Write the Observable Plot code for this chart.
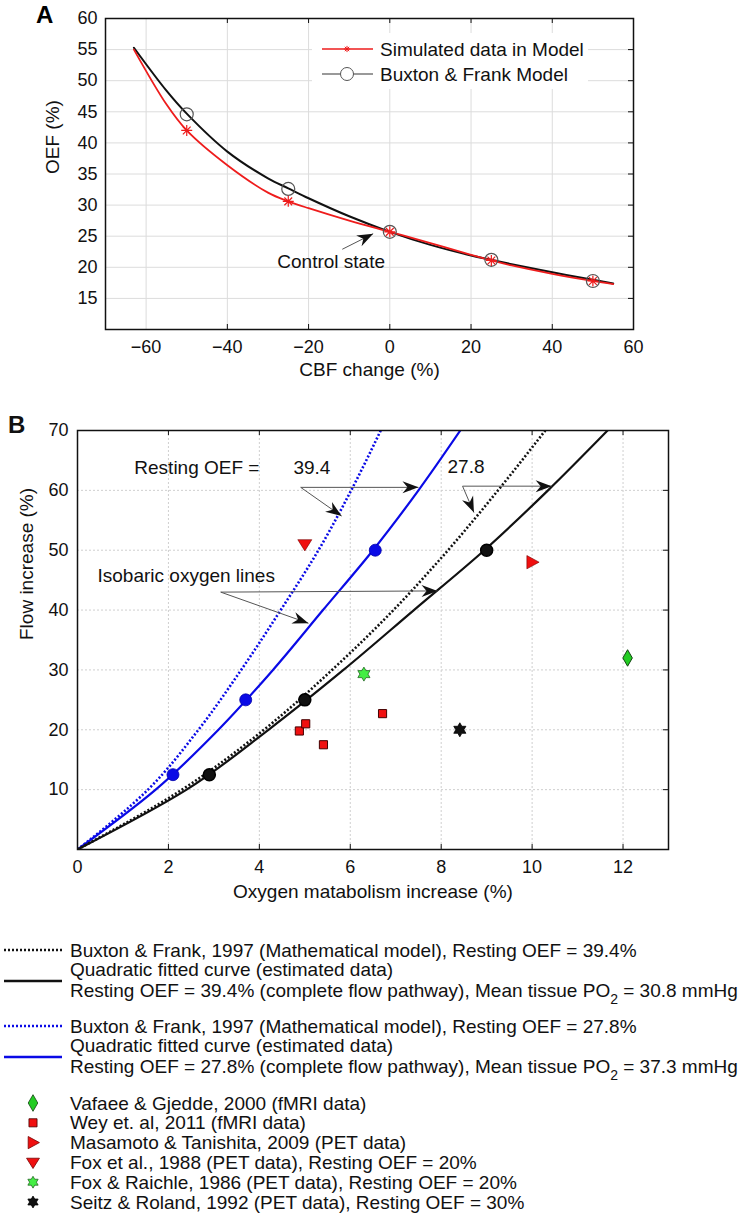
<!DOCTYPE html>
<html><head><meta charset="utf-8">
<script src="https://cdn.jsdelivr.net/npm/d3@7"></script>
<script src="https://cdn.jsdelivr.net/npm/@observablehq/plot@0.6"></script>
<style>
body{margin:0;background:#fff;}
#page{position:relative;width:743px;height:1217px;overflow:hidden;font-family:"Liberation Sans",Arial,Helvetica,sans-serif;background:#fff;}
#page svg{position:absolute;overflow:visible;}
</style></head><body><div id="page"></div>
<script>
const FONT = '"Liberation Sans", Arial, Helvetica, sans-serif';

// ---------------- Panel A data ----------------
const aCbf = [-63, -55, -50, -40, -30, -25, -20, -10, 0, 10, 20, 25, 30, 40, 50, 55];
const aOefBuxton = [55.3, 48.4, 44.7, 38.6, 34.3, 32.7, 31.1, 28.2, 25.7, 23.6, 21.9, 21.2, 20.5, 19.2, 18.0, 17.4];
const aOefSimulated = [55.0, 46.2, 42.0, 36.4, 32.0, 30.6, 29.5, 27.5, 25.7, 23.9, 22.0, 21.1, 20.3, 18.95, 17.8, 17.3];
const aMarkerCbf = [-50, -25, 0, 25, 50];
const aMarkerBuxton = [44.6, 32.6, 25.7, 21.2, 17.8];
const aMarkerSimulated = [42.0, 30.6, 25.7, 21.1, 17.8];
const aXTicks = [-60, -40, -20, 0, 20, 40, 60];
const aYTicks = [15, 20, 25, 30, 35, 40, 45, 50, 55, 60];
const aLegendLabels = ["Simulated data in Model", "Buxton & Frank Model"];
const aNote = {text: "Control state", x: -27.7, y: 20.8, ax1: -11.7, ay1: 22.9, ax2: -4.1, ay2: 25.4};

// ---------------- Panel B data ----------------
const bFlowLevels = [0, 10, 20, 30, 40, 50, 60, 70];
const bBuxton394 = [0, 2.3, 4.1, 5.6, 6.95, 8.15, 9.25, 10.29];   // black dotted
const bFitted394 = [0, 2.4, 4.2, 5.85, 7.4, 8.95, 10.35, 11.66];  // black solid
const bBuxton278 = [0, 1.55, 2.66, 3.6, 4.47, 5.3, 6.02, 6.67];   // blue dotted
const bFitted278 = [0, 1.72, 3.1, 4.3, 5.4, 6.5, 7.5, 8.42];      // blue solid
const bDotFlow = [12.5, 25, 50];
const bDotFitted394 = [2.9, 5.0, 9.0];
const bDotFitted278 = [2.1, 3.7, 6.55];
const vafaeeCmro2 = [12.1], vafaeeFlow = [32];
const weyCmro2 = [4.88, 5.02, 5.41, 6.71], weyFlow = [19.8, 21.0, 17.5, 22.7];
const masamotoCmro2 = [10.0], masamotoFlow = [48];
const fox1988Cmro2 = [5.0], fox1988Flow = [51];
const foxRaichleCmro2 = [6.3], foxRaichleFlow = [29.3];
const seitzCmro2 = [8.41], seitzFlow = [20.0];
const bXTicks = [0, 2, 4, 6, 8, 10, 12];
const bYTicks = [10, 20, 30, 40, 50, 60, 70];
const bNotes = [
  {text: "Resting OEF =", x: 1.25, y: 63.7},
  {text: "39.4", x: 4.75, y: 63.7},
  {text: "27.8", x: 8.14, y: 63.9},
  {text: "Isobaric oxygen lines", x: 0.44, y: 45.7}
];
const bArrows = [
  {x1: 4.91, y1: 60.5, x2: 7.50, y2: 60.5},
  {x1: 4.91, y1: 60.5, x2: 5.81, y2: 55.7},
  {x1: 8.47, y1: 60.7, x2: 10.43, y2: 60.7},
  {x1: 8.47, y1: 60.7, x2: 8.72, y2: 56.3},
  {x1: 3.15, y1: 43.0, x2: 7.92, y2: 43.2},
  {x1: 3.15, y1: 43.0, x2: 5.08, y2: 37.8}
];
const bLegendSeries = [
  "Buxton & Frank, 1997 (Mathematical model), Resting OEF = 39.4%",
  "Quadratic fitted curve (estimated data)",
  "Resting OEF = 39.4% (complete flow pathway), Mean tissue PO|2| = 30.8 mmHg",
  "Buxton & Frank, 1997 (Mathematical model), Resting OEF = 27.8%",
  "Quadratic fitted curve (estimated data)",
  "Resting OEF = 27.8% (complete flow pathway), Mean tissue PO|2| = 37.3 mmHg"
];
const bLegendStudies = [
  "Vafaee & Gjedde, 2000 (fMRI data)",
  "Wey et. al, 2011 (fMRI data)",
  "Masamoto & Tanishita, 2009 (PET data)",
  "Fox et al., 1988 (PET data), Resting OEF = 20%",
  "Fox & Raichle, 1986 (PET data), Resting OEF = 20%",
  "Seitz & Roland, 1992 (PET data), Resting OEF = 30%"
];

// ---------------- symbols ----------------
const rad = s => Math.sqrt(s / Math.PI);
const asterisk8 = {draw(c, s) { const r = rad(s);
  for (let k = 0; k < 4; k++) { const a = k * Math.PI / 4; c.moveTo(-r * Math.cos(a), -r * Math.sin(a)); c.lineTo(r * Math.cos(a), r * Math.sin(a)); } }};
const triRight = {draw(c, s) { const r = rad(s); c.moveTo(r, 0); c.lineTo(-r * 0.75, -r * 0.95); c.lineTo(-r * 0.75, r * 0.95); c.closePath(); }};
const triDown = {draw(c, s) { const r = rad(s); c.moveTo(-r, -r * 0.65); c.lineTo(r, -r * 0.65); c.lineTo(0, r * 0.95); c.closePath(); }};
const hexagram = {draw(c, s) { const R = rad(s), ri = R / Math.sqrt(3);
  for (let k = 0; k < 12; k++) { const a = -Math.PI / 2 + k * Math.PI / 6, rr = k % 2 ? ri : R;
    k ? c.lineTo(rr * Math.cos(a), rr * Math.sin(a)) : c.moveTo(rr * Math.cos(a), rr * Math.sin(a)); } c.closePath(); }};
const stealth = {draw(c) { c.moveTo(0, 0); c.lineTo(-16, -6); c.lineTo(-11, 0); c.lineTo(-16, 6); c.closePath(); }};

const page = d3.select("#page");

// ---------------- Panel A ----------------
const A = {w: 743, h: 400, mt: 18, ml: 105, mr: 110, mb: 71, xd: [-70, 60], yd: [10, 60]};
const axA = d3.scaleLinear(A.xd, [A.ml, A.w - A.mr]);
const ayA = d3.scaleLinear(A.yd, [A.h - A.mb, A.mt]);
const angle = (sx, sy, d) => Math.atan2(sy(d.y2) - sy(d.y1), sx(d.x2) - sx(d.x1)) * 180 / Math.PI;

const aBux = aCbf.map((x, i) => ({x, y: aOefBuxton[i]}));
const aSim = aCbf.map((x, i) => ({x, y: aOefSimulated[i]}));
const aMB = aMarkerCbf.map((x, i) => ({x, y: aMarkerBuxton[i]}));
const aMS = aMarkerCbf.map((x, i) => ({x, y: aMarkerSimulated[i]}));
const aArrow = [{x1: aNote.ax1, y1: aNote.ay1, x2: aNote.ax2, y2: aNote.ay2}];

const plotA = Plot.plot({
  width: A.w, height: A.h, marginTop: A.mt, marginLeft: A.ml, marginRight: A.mr, marginBottom: A.mb,
  style: {fontFamily: FONT, fontSize: "18px", color: "#111", background: "transparent"},
  x: {domain: A.xd, label: null}, y: {domain: A.yd, label: null},
  marks: [
    Plot.gridX(aXTicks.slice(0, -1), {stroke: "#dcdcdc", strokeOpacity: 1}),
    Plot.gridY(aYTicks.slice(0, -1), {stroke: "#dcdcdc", strokeOpacity: 1}),
    Plot.line(aBux, {x: "x", y: "y", stroke: "#111", strokeWidth: 2, curve: "catmull-rom"}),
    Plot.line(aSim, {x: "x", y: "y", stroke: "#ee1c1c", strokeWidth: 1.8, curve: "catmull-rom"}),
    Plot.dot(aMB, {x: "x", y: "y", r: 6.5, stroke: "#555", fill: "none", strokeWidth: 1.2}),
    Plot.dot(aMS, {x: "x", y: "y", r: 5.5, symbol: asterisk8, stroke: "#ee1c1c", fill: "none", strokeWidth: 1.2}),
    Plot.ruleX(aXTicks.slice(1, -1), {x: d => d, y1: A.yd[1], y2: A.yd[1], insetBottom: -5, stroke: "#111"}),
    Plot.ruleX(aXTicks.slice(1, -1), {x: d => d, y1: A.yd[0], y2: A.yd[0], insetTop: -5, stroke: "#111"}),
    Plot.ruleY(aYTicks.slice(0, -1), {y: d => d, x1: A.xd[1], x2: A.xd[1], insetLeft: -5, stroke: "#111"}),
    Plot.frame({stroke: "#111", strokeWidth: 1.5}),
    Plot.axisX(aXTicks, {tickSize: 0, tickPadding: 11, label: null, fontSize: 18}),
    Plot.axisY(aYTicks, {tickSize: 0, tickPadding: 8, label: null, fontSize: 18}),
    Plot.text(["CBF change (%)"], {text: d => d, frameAnchor: "bottom", dy: 46, fontSize: 19}),
    Plot.text(["OEF (%)"], {text: d => d, frameAnchor: "left", rotate: -90, dx: -53, fontSize: 19}),
    Plot.text([aNote], {x: "x", y: "y", text: "text", textAnchor: "start", fontSize: 19}),
    Plot.link(aArrow, {x1: "x1", y1: "y1", x2: "x2", y2: "y2", stroke: "#555", strokeWidth: 1}),
    Plot.dot(aArrow, {x: "x2", y: "y2", symbol: stealth, fill: "#111", stroke: "none", rotate: d => angle(axA, ayA, d)})
  ]
});
d3.select(plotA).style("left", "0px").style("top", "0px");
page.node().appendChild(plotA);

// Panel A legend and letter
const sa = page.append("svg").attr("width", 743).attr("height", 120).style("left", "0px").style("top", "0px")
  .attr("font-family", FONT);
sa.append("text").attr("x", 36).attr("y", 23).attr("font-size", 24).attr("font-weight", "bold").text("A");
sa.append("rect").attr("x", 312).attr("y", 33).attr("width", 276).attr("height", 56).attr("fill", "#fff");
sa.append("line").attr("x1", 322).attr("x2", 373).attr("y1", 49).attr("y2", 49).attr("stroke", "#ee1c1c").attr("stroke-width", 1.5);
sa.append("path").attr("transform", "translate(347,49)").attr("d", d3.symbol(asterisk8, 30)()).attr("stroke", "#ee1c1c").attr("fill", "none");
sa.append("line").attr("x1", 322).attr("x2", 373).attr("y1", 74).attr("y2", 74).attr("stroke", "#777").attr("stroke-width", 1.5);
sa.append("circle").attr("cx", 347).attr("cy", 74).attr("r", 6.5).attr("stroke", "#555").attr("fill", "#fff");
aLegendLabels.forEach((t, i) => sa.append("text").attr("x", 380).attr("y", 56 + 25 * i).attr("font-size", 19).attr("fill", "#111").text(t));

// ---------------- Panel B ----------------
const B = {top: 400, w: 743, h: 540, mt: 30, ml: 77, mr: 75, mb: 91, xd: [0, 13], yd: [0, 70]};
const axB = d3.scaleLinear(B.xd, [B.ml, B.w - B.mr]);
const ayB = d3.scaleLinear(B.yd, [B.h - B.mb, B.mt]);
const curve = xs => bFlowLevels.map((y, i) => ({x: xs[i], y}));
const pts = (xs, ys) => xs.map((x, i) => ({x, y: ys[i]}));
const BLUE = "#0a0ae6", RED = "#f01010", GREEN = "#22cc22", LGREEN = "#44ee44";
const dotted = {strokeWidth: 2.6, strokeDasharray: "2,2", strokeLinecap: "butt", curve: "monotone-y", clip: true};

const plotB = Plot.plot({
  width: B.w, height: B.h, marginTop: B.mt, marginLeft: B.ml, marginRight: B.mr, marginBottom: B.mb,
  style: {fontFamily: FONT, fontSize: "18px", color: "#111", background: "transparent"},
  x: {domain: B.xd, label: null}, y: {domain: B.yd, label: null},
  marks: [
    Plot.gridX(bXTicks.slice(1), {stroke: "#cfcfcf", strokeOpacity: 1, strokeDasharray: "2,2"}),
    Plot.gridY(bYTicks.slice(0, -1), {stroke: "#cfcfcf", strokeOpacity: 1, strokeDasharray: "2,2"}),
    Plot.line(curve(bBuxton278), {x: "x", y: "y", stroke: BLUE, ...dotted}),
    Plot.line(curve(bFitted278), {x: "x", y: "y", stroke: BLUE, strokeWidth: 2.2, curve: "monotone-y", clip: true}),
    Plot.line(curve(bBuxton394), {x: "x", y: "y", stroke: "#111", ...dotted}),
    Plot.line(curve(bFitted394), {x: "x", y: "y", stroke: "#111", strokeWidth: 2.2, curve: "monotone-y", clip: true}),
    Plot.dot(pts(bDotFitted278, bDotFlow), {x: "x", y: "y", r: 6, fill: BLUE, stroke: "#0000aa", strokeWidth: 0.8}),
    Plot.dot(pts(bDotFitted394, bDotFlow), {x: "x", y: "y", r: 6, fill: "#111", stroke: "#000"}),
    Plot.dot(pts(vafaeeCmro2, vafaeeFlow), {x: "x", y: "y", symbol: "diamond", r: 5, fill: GREEN, stroke: "#114411", strokeWidth: 1}),
    Plot.dot(pts(weyCmro2, weyFlow), {x: "x", y: "y", symbol: "square", r: 4.6, fill: RED, stroke: "#400", strokeWidth: 1}),
    Plot.dot(pts(masamotoCmro2, masamotoFlow), {x: "x", y: "y", symbol: triRight, r: 7, fill: RED, stroke: "#700", strokeWidth: 0.6}),
    Plot.dot(pts(fox1988Cmro2, fox1988Flow), {x: "x", y: "y", symbol: triDown, r: 7, fill: RED, stroke: "#700", strokeWidth: 0.6}),
    Plot.dot(pts(foxRaichleCmro2, foxRaichleFlow), {x: "x", y: "y", symbol: hexagram, r: 7, fill: LGREEN, stroke: "#226622", strokeWidth: 0.8}),
    Plot.dot(pts(seitzCmro2, seitzFlow), {x: "x", y: "y", symbol: hexagram, r: 7, fill: "#111", stroke: "#000", strokeWidth: 0.8}),
    Plot.ruleX(bXTicks.slice(1), {x: d => d, y1: B.yd[1], y2: B.yd[1], insetBottom: -5, stroke: "#111"}),
    Plot.ruleX(bXTicks.slice(1), {x: d => d, y1: B.yd[0], y2: B.yd[0], insetTop: -5, stroke: "#111"}),
    Plot.ruleY(bYTicks.slice(0, -1), {y: d => d, x1: B.xd[1], x2: B.xd[1], insetLeft: -5, stroke: "#111"}),
    Plot.frame({stroke: "#111", strokeWidth: 1.5}),
    Plot.axisX(bXTicks, {tickSize: 0, tickPadding: 11, label: null, fontSize: 18}),
    Plot.axisY(bYTicks, {tickSize: 0, tickPadding: 9, label: null, fontSize: 18}),
    Plot.text(["Oxygen matabolism increase (%)"], {text: d => d, frameAnchor: "bottom", dy: 48, fontSize: 19}),
    Plot.text(["Flow increase (%)"], {text: d => d, frameAnchor: "left", rotate: -90, dx: -51, fontSize: 19}),
    Plot.text(bNotes, {x: "x", y: "y", text: "text", textAnchor: "start", fontSize: 19}),
    Plot.link(bArrows, {x1: "x1", y1: "y1", x2: "x2", y2: "y2", stroke: "#555", strokeWidth: 1}),
    Plot.dot(bArrows, {x: "x2", y: "y2", symbol: stealth, fill: "#111", stroke: "none", rotate: d => angle(axB, ayB, d)})
  ]
});
d3.select(plotB).style("left", "0px").style("top", B.top + "px");
page.node().appendChild(plotB);

// ---------------- Panel B letter + legend ----------------
const sl = page.append("svg").attr("width", 743).attr("height", 1217).style("left", "0px").style("top", "0px")
  .attr("font-family", FONT).attr("font-size", 19).attr("fill", "#111");
sl.append("text").attr("x", 8).attr("y", 433).attr("font-size", 24).attr("font-weight", "bold").text("B");

const textRow = (t, y) => {
  const parts = t.split("|");
  const el = sl.append("text").attr("x", 70).attr("y", y + 6.5);
  el.append("tspan").text(parts[0]);
  if (parts.length > 1) {
    el.append("tspan").attr("dy", 7).attr("font-size", 14).text(parts[1]);
    el.append("tspan").attr("dy", -7).text(parts[2]);
  }
};
const rowY = [950, 969, 990, 1026, 1045, 1066];
bLegendSeries.forEach((t, i) => textRow(t, rowY[i]));
const sample = (y, color, dash, w) => sl.append("line").attr("x1", 4).attr("x2", 62).attr("y1", y).attr("y2", y)
  .attr("stroke", color).attr("stroke-width", w).attr("stroke-dasharray", dash);
sample(950, "#111", "2,2", 2.4);
sample(981, "#111", null, 2.4);
sample(1026, BLUE, "2,2", 2.4);
sample(1057, BLUE, null, 2.4);

const studySyms = [
  {sym: d3.symbolDiamond, size: 80, fill: GREEN, stroke: "#114411"},
  {sym: d3.symbolSquare, size: 66, fill: RED, stroke: "#400"},
  {sym: triRight, size: 130, fill: RED, stroke: "#700"},
  {sym: triDown, size: 130, fill: RED, stroke: "#700"},
  {sym: hexagram, size: 110, fill: LGREEN, stroke: "#226622"},
  {sym: hexagram, size: 110, fill: "#111", stroke: "#000"}
];
bLegendStudies.forEach((t, i) => {
  const y = 1103 + 19.8 * i;
  const s = studySyms[i];
  sl.append("path").attr("transform", `translate(33,${y})`).attr("d", d3.symbol(s.sym, s.size)())
    .attr("fill", s.fill).attr("stroke", s.stroke).attr("stroke-width", 0.8);
  textRow(t, y);
});
</script></body></html>
